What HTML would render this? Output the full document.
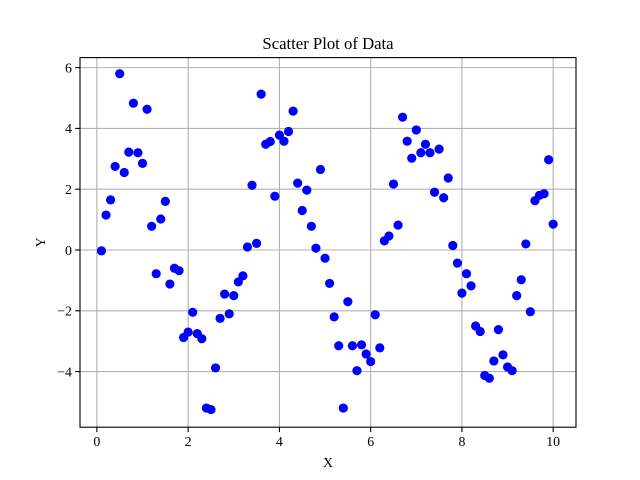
<!DOCTYPE html>
<html><head><meta charset="utf-8"><style>
html,body{margin:0;padding:0;background:#fff;}
svg{display:block;font-family:"Liberation Serif",serif;}
</style></head><body>
<svg id="chart" width="640" height="480" xmlns="http://www.w3.org/2000/svg"></svg>
<script>
const xValues = [];
for (let i = 1; i <= 100; i++) xValues.push(i / 10);
const yValues = [-0.03,1.15,1.65,2.75,5.8,2.55,3.22,4.83,3.2,2.85,
4.63,0.78,-0.78,1.02,1.6,-1.12,-0.6,-0.68,-2.88,-2.7,
-2.05,-2.75,-2.92,-5.2,-5.25,-3.88,-2.25,-1.45,-2.1,-1.5,
-1.05,-0.85,0.1,2.13,0.22,5.13,3.48,3.57,1.77,3.78,
3.58,3.9,4.57,2.2,1.3,1.97,0.78,0.06,2.65,-0.27,
-1.1,-2.2,-3.15,-5.2,-1.7,-3.15,-3.97,-3.12,-3.42,-3.67,
-2.13,-3.22,0.3,0.46,2.17,0.82,4.37,3.58,3.02,3.95,
3.2,3.48,3.2,1.9,3.32,1.72,2.37,0.15,-0.43,-1.42,
-0.78,-1.18,-2.5,-2.68,-4.13,-4.22,-3.65,-2.62,-3.45,-3.85,
-3.97,-1.5,-0.98,0.2,-2.03,1.62,1.8,1.85,2.97,0.85];
const xTicks = [0,2,4,6,8,10];
const yTicks = [-4,-2,0,2,4,6];

const L=80,R=576,T=57.6,B=427.2;
const xMin=-0.37,xMax=10.5,yMin=-5.83,yMax=6.33;
const sx=v=>L+(v-xMin)/(xMax-xMin)*(R-L);
const sy=v=>B-(v-yMin)/(yMax-yMin)*(B-T);
const svg=document.getElementById('chart');
const NS='http://www.w3.org/2000/svg';
function mk(tag,attrs,parent){const e=document.createElementNS(NS,tag);for(const k in attrs)e.setAttribute(k,attrs[k]);(parent||svg).appendChild(e);return e;}

const grid=mk('g',{});


xTicks.forEach(t=>{const l=mk('line',{x1:sx(t),x2:sx(t),y1:T,y2:B,stroke:'#b0b0b0','stroke-width':1.1},grid);

});
yTicks.forEach(t=>{const l=mk('line',{x1:L,x2:R,y1:sy(t),y2:sy(t),stroke:'#b0b0b0','stroke-width':1.1},grid);

});

const pts=mk('g',{});


xValues.forEach((x,i)=>{const c=mk('circle',{cx:sx(x),cy:sy(yValues[i]),r:4.6,fill:'#0000ff'},pts);

});

const frame=mk('rect',{x:L,y:T,width:R-L,height:B-T,fill:'none',stroke:'#000','stroke-width':1.1});



xTicks.forEach(t=>{mk('line',{x1:sx(t),x2:sx(t),y1:B,y2:B+4.9,stroke:'#000','stroke-width':1.1});
const tx=mk('text',{x:sx(t),y:B+19,'text-anchor':'middle','font-size':13.9});tx.textContent=t;

});
yTicks.forEach(t=>{mk('line',{x1:L-4.9,x2:L,y1:sy(t),y2:sy(t),stroke:'#000','stroke-width':1.1});
const tx=mk('text',{x:L-8,y:sy(t)+4.8,'text-anchor':'end','font-size':13.9});tx.textContent=(t<0?'\u2212'+(-t):t);

});

const title=mk('text',{x:(L+R)/2,y:49,'text-anchor':'middle','font-size':16.7});title.textContent='Scatter Plot of Data';


const xl=mk('text',{x:(L+R)/2,y:467,'text-anchor':'middle','font-size':13.9});xl.textContent='X';


const yl=mk('text',{x:45,y:(T+B)/2,'text-anchor':'middle','font-size':13.9,transform:`rotate(-90 45 ${(T+B)/2})`});yl.textContent='Y';


</script>
</body></html>
